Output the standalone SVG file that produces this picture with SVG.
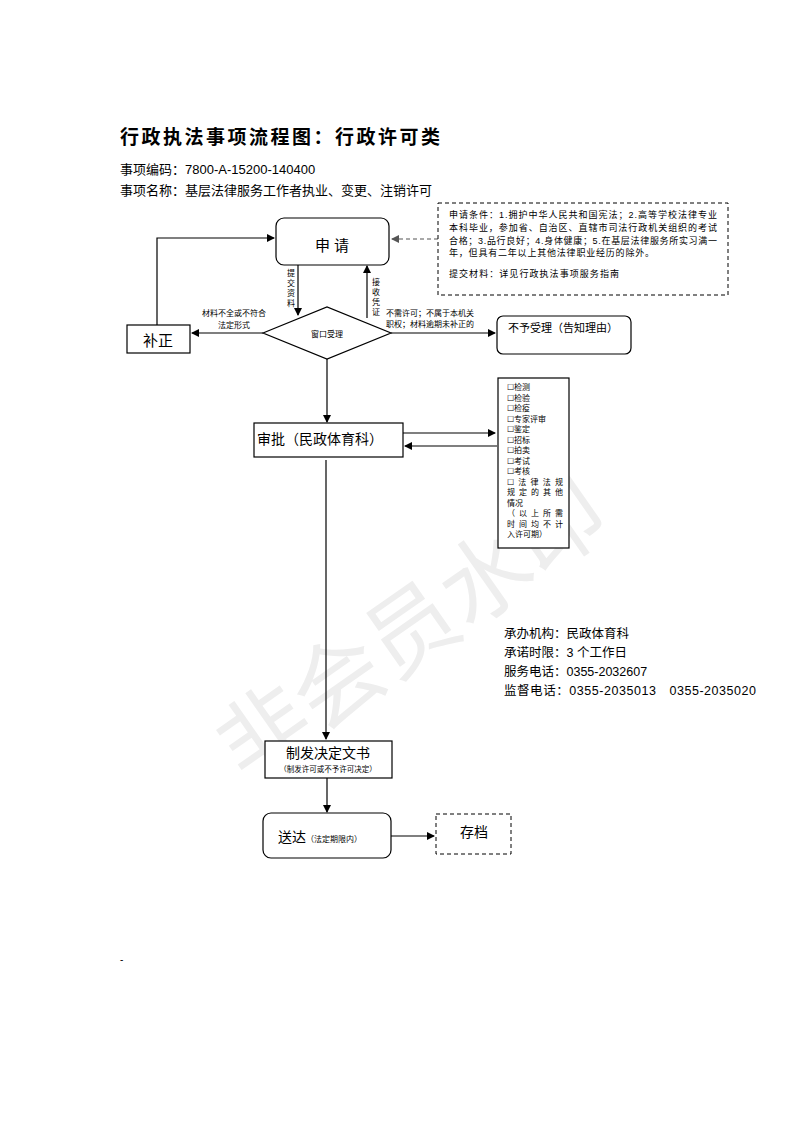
<svg xmlns="http://www.w3.org/2000/svg" width="793" height="1122" viewBox="0 0 793 1122">
<style>
text{font-family:"Liberation Sans","Noto Sans CJK SC",sans-serif;fill:#000}
.b{fill:#fff;stroke:#000;stroke-width:1.2}
.l{fill:none;stroke:#000;stroke-width:1.2}
.s{font-size:8px}
.m{font-size:9px}
</style>
<defs><marker id="a" markerWidth="8" markerHeight="8" refX="7" refY="4" orient="auto" markerUnits="userSpaceOnUse"><path d="M0,0L8,4L0,8z" fill="#000"/></marker>
<marker id="g" markerWidth="8" markerHeight="8" refX="7" refY="4" orient="auto" markerUnits="userSpaceOnUse"><path d="M0,0L8,4L0,8z" fill="#555"/></marker></defs>
<rect width="793" height="1122" fill="#fff"/>
<text x="400" y="640" transform="rotate(-35 440 600)" font-size="90" style="fill:#eee" text-anchor="middle">非会员水印</text>
<text x="120" y="144" font-size="19" font-weight="bold" textLength="320" style="font-family:'Noto Sans CJK SC',serif">行政执法事项流程图：行政许可类</text>
<text x="120" y="174" font-size="13">事项编码：7800-A-15200-140400</text>
<text x="120" y="195" font-size="13">事项名称：基层法律服务工作者执业、变更、注销许可</text>
<g id="connectors">
<path class="l" d="M157,325V238H274" marker-end="url(#a)"/>
<path d="M438,239H392" stroke="#555" stroke-width="1.2" stroke-dasharray="4,3" fill="none" marker-end="url(#g)"/>
<path class="l" d="M298,265V315" marker-end="url(#a)"/>
<path class="l" d="M367,318V266" marker-end="url(#a)"/>
<path class="l" d="M263,333H192" marker-end="url(#a)"/>
<path class="l" d="M391,333H495" marker-end="url(#a)"/>
<path class="l" d="M327,359V422" marker-end="url(#a)"/>
<path class="l" d="M403,433H495" marker-end="url(#a)"/>
<path class="l" d="M497,446H405" marker-end="url(#a)"/>
<path class="l" d="M326,460V739" marker-end="url(#a)"/>
<path class="l" d="M327,778V812" marker-end="url(#a)"/>
<path class="l" d="M391,836H434" marker-end="url(#a)"/>
<text class="s" x="291" y="276" text-anchor="middle">提</text><text class="s" x="291" y="286" text-anchor="middle">交</text><text class="s" x="291" y="296" text-anchor="middle">资</text><text class="s" x="291" y="306" text-anchor="middle">料</text>
<text class="s" x="376" y="285" text-anchor="middle">接</text><text class="s" x="376" y="295" text-anchor="middle">收</text><text class="s" x="376" y="305" text-anchor="middle">凭</text><text class="s" x="376" y="315" text-anchor="middle">证</text>
<text class="s" x="234" y="316" text-anchor="middle">材料不全或不符合</text>
<text class="s" x="234" y="328" text-anchor="middle">法定形式</text>
<text class="s" x="386" y="316">不需许可；不属于本机关</text>
<text class="s" x="386" y="327">职权；材料逾期未补正的</text>
</g>
<g id="apply"><rect class="b" x="276" y="218" width="113" height="47" rx="8"/><text x="332" y="251" font-size="15" text-anchor="middle">申 请</text></g>
<g id="cond"><rect x="438" y="203" width="290" height="92" fill="#fff" stroke="#000" stroke-dasharray="4,3"/>
<text class="m" x="449" y="218" textLength="268">申请条件：1.拥护中华人民共和国宪法；2.高等学校法律专业</text>
<text class="m" x="449" y="231" textLength="268">本科毕业，参加省、自治区、直辖市司法行政机关组织的考试</text>
<text class="m" x="449" y="244" textLength="268">合格；3.品行良好；4.身体健康；5.在基层法律服务所实习满一</text>
<text class="m" x="449" y="256" textLength="205">年，但具有二年以上其他法律职业经历的除外。</text>
<text class="m" x="449" y="277" textLength="170">提交材料：详见行政执法事项服务指南</text></g>
<g id="fix"><rect class="b" x="127" y="325" width="63" height="28"/><text x="158" y="346" font-size="15" text-anchor="middle">补正</text></g>
<g id="window"><path class="b" d="M263,333L327,307L391,333L327,359z"/><text class="s" x="327" y="337" text-anchor="middle">窗口受理</text></g>
<g id="reject"><rect class="b" x="497" y="316" width="134" height="38" rx="6"/><text x="563" y="332" font-size="11" text-anchor="middle">不予受理（告知理由）</text></g>
<g id="approve"><rect class="b" x="254" y="423" width="149" height="34"/><text x="320" y="444" font-size="14" text-anchor="middle">审批（民政体育科）</text></g>
<g id="list"><rect class="b" x="498" y="378" width="71" height="170"/>
<g class="s"><text class="s" x="507" y="390">☐检测</text><text class="s" x="507" y="400.5">☐检验</text><text class="s" x="507" y="411">☐检疫</text><text class="s" x="507" y="421.5">☐专家评审</text><text class="s" x="507" y="432">☐鉴定</text><text class="s" x="507" y="442.5">☐招标</text><text class="s" x="507" y="453">☐拍卖</text><text class="s" x="507" y="463.5">☐考试</text><text class="s" x="507" y="474">☐考核</text><text class="s" x="507" y="484.5" textLength="56">☐法律法规</text><text class="s" x="507" y="495" textLength="56">规定的其他</text><text class="s" x="507" y="505.5">情况</text><text class="s" x="507" y="516" textLength="56">（以上所需</text><text class="s" x="507" y="526.5" textLength="56">时间均不计</text><text class="s" x="507" y="537">入许可期）</text></g></g>
<g id="info"><text x="504" y="638" font-size="12.5">承办机构：民政体育科</text><text x="504" y="657" font-size="12.5">承诺时限：3 个工作日</text><text x="504" y="676" font-size="12.5">服务电话：0355-2032607</text><text x="504" y="695" font-size="12.5" textLength="252">监督电话：0355-2035013　0355-2035020</text></g>
<g id="issue"><rect class="b" x="265" y="741" width="127" height="37"/><text x="328" y="758" font-size="14" text-anchor="middle">制发决定文书</text><text x="328" y="772" font-size="7.5" text-anchor="middle">（制发许可或不予许可决定）</text></g>
<g id="deliver"><rect class="b" x="263" y="813" width="128" height="45" rx="8"/><text x="278" y="842" font-size="14">送达<tspan font-size="8">（法定期限内）</tspan></text></g>
<g id="archive"><rect x="436" y="814" width="75" height="40" fill="#fff" stroke="#000" stroke-dasharray="4,3"/><text x="474" y="837" font-size="14" text-anchor="middle">存档</text></g>
<text x="120" y="963" font-size="10">-</text>
</svg>
